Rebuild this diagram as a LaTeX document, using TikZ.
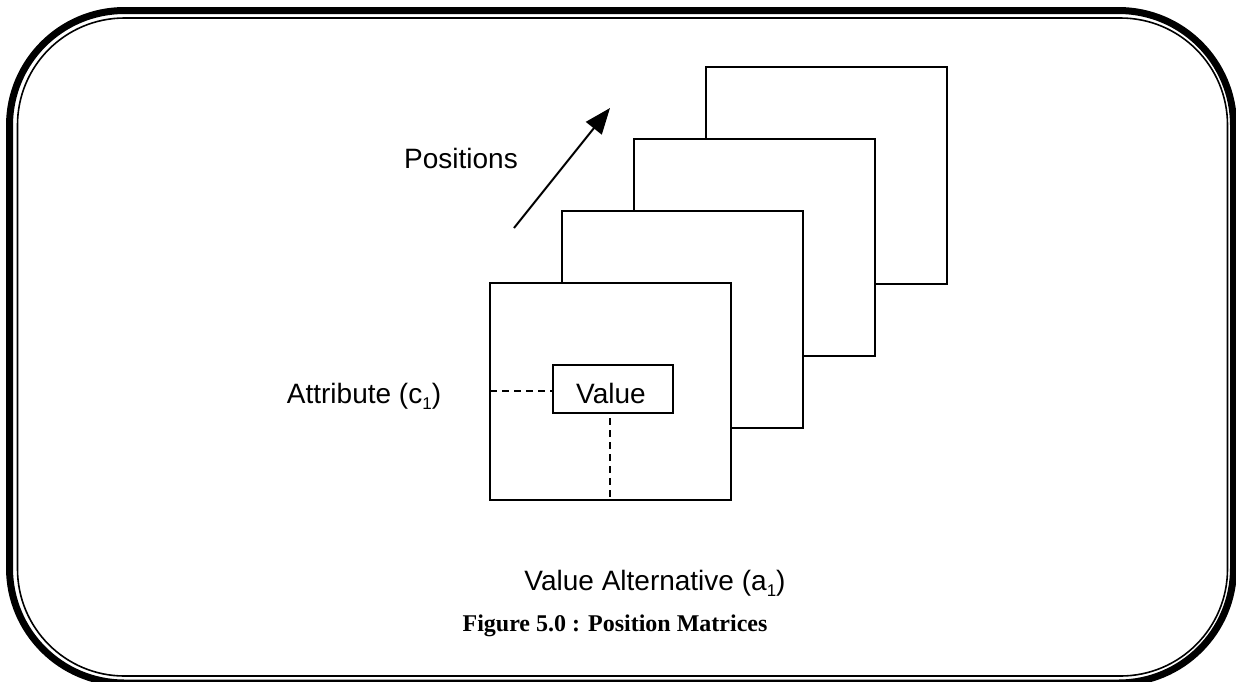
\documentclass[tikz,border=0pt]{standalone}
\usepackage{fontspec}
\setmainfont{Liberation Serif}
\newfontfamily\arialf{Liberation Sans}
\usetikzlibrary{arrows.meta}
\newcommand{\lowsub}[1]{\raisebox{-0.22em}{\fontsize{17}{20}\selectfont #1}}
\begin{document}
\begin{tikzpicture}[x=1pt,y=-1pt,
  mat/.style={draw=black,line width=2pt,fill=white},
  lbl/.style={font=\arialf\fontsize{28}{32}\selectfont,inner sep=0pt,anchor=base},
  dashline/.style={draw=black,line width=1.5pt,dash pattern=on 7pt off 5pt}]
\useasboundingbox (0,0) rectangle (1236,681);
% frame
\draw[line width=7pt,rounded corners=115pt] (9.5,10.5) rectangle (1233.5,683);
\draw[line width=1.6pt,rounded corners=107pt] (17.5,18) rectangle (1227.5,676);
% matrices (back to front)
\draw[mat] (706,67) rectangle (947,284);
\draw[mat] (634,139) rectangle (875,356);
\draw[mat] (562,211) rectangle (803,428);
\draw[mat] (490,283) rectangle (731,500);
\coordinate (fl) at (490,391);
\coordinate (fb) at (610,500);
% value box
\node[draw=black,line width=2pt,minimum width=120pt,minimum height=48pt,inner sep=0pt] (val) at (613,389) {};
\node[lbl] (valt) at (611,403) {Value};
\draw[dashline] (fl) -- (val.west |- fl);
\draw[dashline] (val.south -| fb) ++(0,4) -- (fb);
% arrow
\coordinate (atail) at (514,228);
\coordinate (ahead) at (610,108);
\draw[line width=2pt,-{Triangle[length=26pt,width=20pt]}] (atail) -- (ahead);
% labels
\node[lbl] (pos) at (461,168) {Positions};
\node[lbl] (attr) at (364,403) {Attribute (c\lowsub{1})};
\node[lbl] (alt) at (655,590) {Value Alternative (a\lowsub{1})};
\node[font=\bfseries\fontsize{24}{28}\selectfont,inner sep=0pt,anchor=base] (cap) at (615,631) {Figure 5.0 : Position Matrices};
\end{tikzpicture}
\end{document}
